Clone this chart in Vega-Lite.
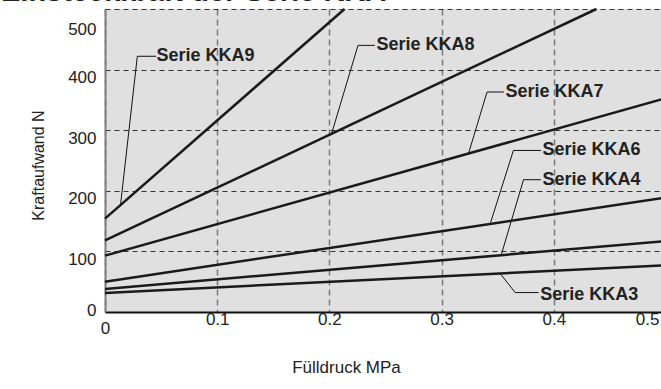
{
  "$schema": "https://vega.github.io/schema/vega-lite/v6.json",
  "width": 556,
  "height": 303,
  "autosize": {"type": "none"},
  "padding": {"left": 105, "top": 9, "right": 0, "bottom": 77},
  "background": "white",
  "title": {
    "text": "Einsteckkraft der Serie KKA",
    "anchor": "start",
    "frame": "group",
    "dx": -104,
    "dy": 26,
    "offset": 0,
    "baseline": "alphabetic",
    "fontSize": 29,
    "font": "Liberation Sans",
    "fontWeight": "bold",
    "color": "#222222"
  },
  "config": {
    "view": {"fill": "#e0e0e0", "stroke": null},
    "font": "Liberation Sans"
  },
  "datasets": {
    "lines": [
      {"series": "KKA9", "druck": 0, "kraft": 154},
      {"series": "KKA9", "druck": 0.2135, "kraft": 500},
      {"series": "KKA8", "druck": 0, "kraft": 118},
      {"series": "KKA8", "druck": 0.438, "kraft": 500},
      {"series": "KKA7", "druck": 0, "kraft": 93},
      {"series": "KKA7", "druck": 0.5, "kraft": 353},
      {"series": "KKA6", "druck": 0, "kraft": 50},
      {"series": "KKA6", "druck": 0.5, "kraft": 189},
      {"series": "KKA4", "druck": 0, "kraft": 38},
      {"series": "KKA4", "druck": 0.5, "kraft": 117},
      {"series": "KKA3", "druck": 0, "kraft": 31.5},
      {"series": "KKA3", "druck": 0.5, "kraft": 77}
    ],
    "leaders": [
      {"series": "KKA9", "i": 0, "druck": 0.0138, "kraft": 176},
      {"series": "KKA9", "i": 1, "druck": 0.0288, "kraft": 422},
      {"series": "KKA9", "i": 2, "druck": 0.0455, "kraft": 422},
      {"series": "KKA8", "i": 0, "druck": 0.2019, "kraft": 294},
      {"series": "KKA8", "i": 1, "druck": 0.2255, "kraft": 440},
      {"series": "KKA8", "i": 2, "druck": 0.2405, "kraft": 440},
      {"series": "KKA7", "i": 0, "druck": 0.324, "kraft": 261.5},
      {"series": "KKA7", "i": 1, "druck": 0.3405, "kraft": 363},
      {"series": "KKA7", "i": 2, "druck": 0.3555, "kraft": 363},
      {"series": "KKA6", "i": 0, "druck": 0.3433, "kraft": 145.4},
      {"series": "KKA6", "i": 1, "druck": 0.364, "kraft": 266.6},
      {"series": "KKA6", "i": 2, "druck": 0.3885, "kraft": 266.6},
      {"series": "KKA4", "i": 0, "druck": 0.3531, "kraft": 93.8},
      {"series": "KKA4", "i": 1, "druck": 0.373, "kraft": 218.3},
      {"series": "KKA4", "i": 2, "druck": 0.3885, "kraft": 218.3},
      {"series": "KKA3", "i": 0, "druck": 0.3522, "kraft": 63.5},
      {"series": "KKA3", "i": 1, "druck": 0.3656, "kraft": 32.1},
      {"series": "KKA3", "i": 2, "druck": 0.3865, "kraft": 32.1}
    ],
    "labels": [
      {"text": "Serie KKA9", "druck": 0.0459, "kraft": 422},
      {"text": "Serie KKA8", "druck": 0.242, "kraft": 440},
      {"text": "Serie KKA7", "druck": 0.357, "kraft": 363},
      {"text": "Serie KKA6", "druck": 0.39, "kraft": 266.6},
      {"text": "Serie KKA4", "druck": 0.39, "kraft": 218.3},
      {"text": "Serie KKA3", "druck": 0.388, "kraft": 28}
    ]
  },
  "layer": [
    {
      "data": {"name": "lines"},
      "mark": {"type": "line", "color": "#1a1a1a", "strokeWidth": 2.5},
      "encoding": {
        "x": {
          "field": "druck",
          "type": "quantitative",
          "scale": {"domain": [0, 0.5], "range": [0, 561], "nice": false, "zero": false},
          "axis": {
            "values": [0, 0.1, 0.2, 0.3, 0.4, 0.5],
            "labelExpr": "datum.value == 0 ? '0' : format(datum.value, '.1f')",
            "grid": true,
            "gridDash": [6, 4],
            "gridColor": "#7a7a7a",
            "gridWidth": 1.5,
            "domain": true,
            "domainColor": "#111111",
            "domainWidth": 2,
            "ticks": false,
            "labelFlush": false,
            "labelOverlap": false,
            "labelFontSize": 17,
            "labelColor": "#222222",
            "labelPadding": {"condition": {"test": "datum.value == 0", "value": 8}, "value": -1},
            "labelAlign": {"condition": {"test": "datum.value >= 0.5", "value": "right"}, "value": "center"},
            "labelOffset": {"condition": {"test": "datum.value >= 0.5", "value": -7}, "value": 0},
            "title": "Fülldruck MPa",
            "titleFontSize": 17,
            "titleFontWeight": "normal",
            "titleColor": "#222222",
            "titleX": 241,
            "titleY": 55,
            "titleBaseline": "middle",
            "titleAlign": "center"
          }
        },
        "y": {
          "field": "kraft",
          "type": "quantitative",
          "scale": {"domain": [0, 500], "nice": false},
          "axis": {
            "values": [0, 100, 200, 300, 400, 500],
            "grid": true,
            "gridDash": [5, 4],
            "gridColor": "#333333",
            "gridWidth": 1,
            "domain": true,
            "domainColor": "#808080",
            "domainWidth": 2,
            "ticks": false,
            "labelOverlap": false,
            "labelFontSize": 17,
            "labelColor": "#222222",
            "labelPadding": 9,
            "labelOffset": {"expr": "datum.value == 0 ? -2 : (datum.value == 500 ? 20 : 8)"},
            "title": "Kraftaufwand N",
            "titleFontSize": 16,
            "titleFontWeight": "normal",
            "titleColor": "#222222",
            "titleX": -67,
            "titleY": 156,
            "titleBaseline": "middle",
            "titleAlign": "center"
          }
        },
        "detail": {"field": "series"}
      }
    },
    {
      "data": {"name": "leaders"},
      "mark": {"type": "line", "color": "#111111", "strokeWidth": 1},
      "encoding": {
        "x": {"field": "druck", "type": "quantitative"},
        "y": {"field": "kraft", "type": "quantitative"},
        "detail": {"field": "series"},
        "order": {"field": "i"}
      }
    },
    {
      "data": {"name": "labels"},
      "mark": {"type": "text", "align": "left", "baseline": "middle", "fontSize": 18, "fontWeight": "bold", "color": "#222222", "font": "Liberation Sans"},
      "encoding": {
        "x": {"field": "druck", "type": "quantitative"},
        "y": {"field": "kraft", "type": "quantitative"},
        "text": {"field": "text"}
      }
    },
    {
      "mark": {"type": "rule", "color": "#808080", "strokeWidth": 2},
      "encoding": {
        "x": {"datum": -0.0875},
        "y": {"datum": 500},
        "y2": {"datum": -130}
      }
    },
    {
      "mark": {"type": "rule", "color": "#3a3a3a", "strokeWidth": 2},
      "encoding": {
        "x": {"datum": -0.0875},
        "x2": {"datum": 0.5},
        "y": {"datum": 500}
      }
    }
  ]
}
